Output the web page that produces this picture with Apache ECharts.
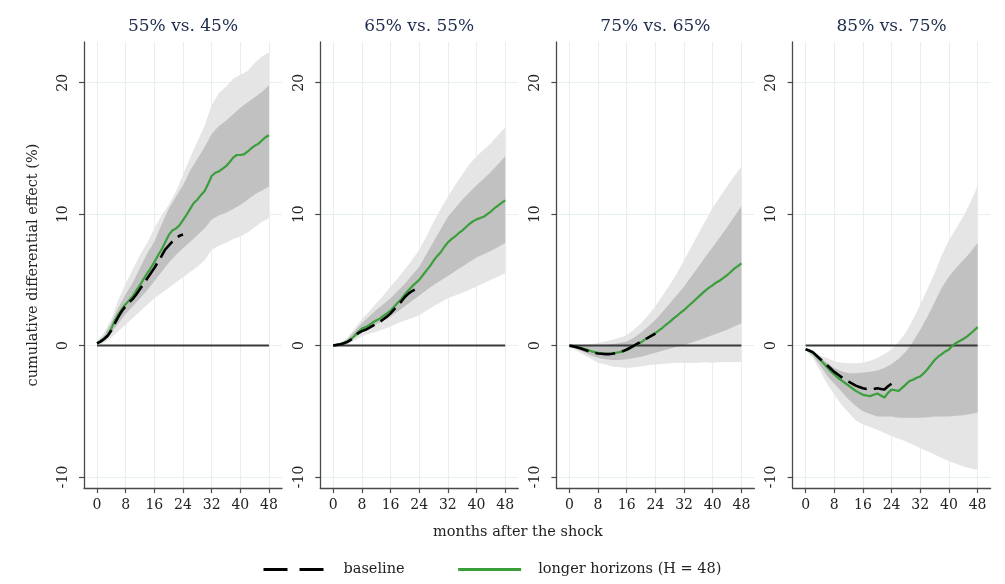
<!DOCTYPE html>
<html><head><meta charset="utf-8">
<script src="https://cdn.jsdelivr.net/npm/echarts@6/dist/echarts.min.js"></script>
<style>html,body{margin:0;padding:0;background:#fff}#c{width:1005px;height:584px}</style>
</head><body><div id="c"></div>
<script>
const months = [0,1,2,3,4,5,6,7,8,9,10,11,12,13,14,15,16,17,18,19,20,21,22,23,24,25,26,27,28,29,30,31,32,33,34,35,36,37,38,39,40,41,42,43,44,45,46,47,48];
const baselineMonths = [0,1,2,3,4,5,6,7,8,9,10,11,12,13,14,15,16,17,18,19,20,21,22,23,24];
const bandMonths = [0,2,4,6,8,10,12,14,16,18,20,22,24,26,28,30,32,34,36,38,40,42,44,46,48];
const zeroLineMonths = [0,48];
const zeroLineValues = [0,0];
const xTicks = [0,8,16,24,32,40,48];
const yTicks = [-10,0,10,20];
const panelTitles = ['55% vs. 45%','65% vs. 55%','75% vs. 65%','85% vs. 75%'];
const legendNames = ['baseline','longer horizons (H = 48)'];
const yAxisTitle = 'cumulative differential effect (%)';
const xAxisTitle = 'months after the shock';

// Panel 1: 55% vs. 45%
const green1 = [0.17,0.35,0.55,0.8,1.3,1.9,2.4,2.8,3.15,3.45,3.75,4.2,4.6,5.05,5.5,5.9,6.35,6.85,7.3,7.85,8.4,8.75,8.9,9.15,9.55,9.95,10.4,10.85,11.1,11.45,11.75,12.3,12.9,13.15,13.25,13.45,13.65,13.95,14.3,14.5,14.5,14.55,14.75,15.0,15.2,15.35,15.6,15.85,16.0];
const base1 = [0.17,0.3,0.5,0.75,1.15,1.7,2.2,2.65,3.0,3.3,3.55,3.9,4.3,4.7,5.1,5.5,5.9,6.35,6.8,7.3,7.6,7.9,8.15,8.35,8.45];
const outerHi1 = [0.3,1.0,2.0,3.5,4.7,5.8,6.9,7.8,8.9,9.9,10.7,11.7,13.0,14.3,15.5,16.7,18.3,19.2,19.7,20.3,20.6,20.9,21.5,22.0,22.3];
const innerHi1 = [0.25,0.75,1.75,2.9,3.9,4.8,5.9,7.0,7.9,9.2,10.4,11.3,12.2,13.3,14.2,15.1,16.1,16.7,17.1,17.6,18.1,18.5,18.9,19.3,19.8];
const innerLo1 = [0.1,0.35,1.0,1.7,2.4,3.0,3.6,4.2,4.9,5.6,6.3,6.9,7.4,7.9,8.4,8.9,9.6,9.9,10.1,10.4,10.7,11.1,11.5,11.8,12.1];
const outerLo1 = [0.05,0.2,0.6,1.1,1.6,2.1,2.6,3.1,3.6,4.0,4.4,4.8,5.2,5.6,6.0,6.5,7.3,7.6,7.8,8.1,8.3,8.6,9.0,9.4,9.7];

// Panel 2: 65% vs. 55%
const green2 = [0,0.05,0.12,0.22,0.32,0.5,0.75,1.05,1.3,1.4,1.55,1.75,1.9,2.05,2.25,2.45,2.65,2.95,3.25,3.55,3.9,4.2,4.5,4.75,5.0,5.35,5.7,6.05,6.45,6.8,7.1,7.5,7.85,8.1,8.3,8.55,8.75,9.0,9.25,9.45,9.6,9.7,9.8,10.0,10.2,10.45,10.65,10.85,11.05];
const base2 = [0,0.05,0.1,0.18,0.28,0.45,0.7,0.95,1.1,1.2,1.35,1.5,1.65,1.8,2.0,2.2,2.45,2.75,3.05,3.35,3.7,3.95,4.15,4.3,4.45];
const outerHi2 = [0.05,0.2,0.6,1.3,2.0,2.6,3.2,3.8,4.5,5.1,5.8,6.5,7.3,8.3,9.4,10.4,11.3,12.2,13.0,13.8,14.4,14.9,15.4,16.0,16.6];
const innerHi2 = [0.03,0.15,0.5,1.1,1.7,2.2,2.7,3.15,3.6,4.15,4.7,5.35,6.0,6.95,7.9,8.85,9.8,10.45,11.1,11.65,12.2,12.7,13.2,13.8,14.4];
const innerLo2 = [0,0.05,0.2,0.6,1.0,1.3,1.6,1.9,2.2,2.6,3.0,3.4,3.8,4.2,4.6,4.95,5.3,5.65,6.0,6.35,6.7,6.95,7.2,7.5,7.8];
const outerLo2 = [0,0.02,0.1,0.4,0.7,0.9,1.05,1.25,1.45,1.7,1.9,2.1,2.3,2.65,3.0,3.3,3.6,3.8,4.0,4.25,4.5,4.75,5.0,5.25,5.5];

// Panel 3: 75% vs. 65%
const green3 = [-0.05,-0.08,-0.12,-0.18,-0.25,-0.33,-0.42,-0.5,-0.55,-0.6,-0.62,-0.63,-0.6,-0.55,-0.5,-0.42,-0.33,-0.2,-0.05,0.1,0.25,0.45,0.6,0.8,0.95,1.15,1.35,1.6,1.8,2.05,2.25,2.5,2.7,2.95,3.2,3.45,3.7,3.95,4.2,4.4,4.6,4.8,4.95,5.15,5.35,5.6,5.85,6.05,6.25];
const base3 = [0,-0.05,-0.12,-0.2,-0.3,-0.4,-0.5,-0.55,-0.6,-0.62,-0.65,-0.65,-0.62,-0.57,-0.5,-0.42,-0.3,-0.15,0.0,0.15,0.3,0.45,0.6,0.75,0.9];
const outerHi3 = [0,0.02,0.05,0.1,0.2,0.3,0.45,0.6,0.8,1.2,1.7,2.3,3.0,3.8,4.6,5.5,6.5,7.5,8.5,9.5,10.5,11.3,12.1,12.9,13.6];
const innerHi3 = [0,-0.02,-0.05,-0.03,0.0,0.05,0.1,0.2,0.3,0.6,1.0,1.45,1.97,2.55,3.2,3.85,4.5,5.25,6.0,6.75,7.5,8.25,9.0,9.8,10.6];
const innerLo3 = [-0.05,-0.25,-0.5,-0.75,-0.95,-1.05,-1.1,-1.1,-1.05,-0.95,-0.85,-0.7,-0.55,-0.4,-0.25,-0.1,0.05,0.22,0.4,0.6,0.8,1.0,1.2,1.45,1.7];
const outerLo3 = [-0.1,-0.4,-0.7,-1.0,-1.3,-1.45,-1.6,-1.65,-1.7,-1.65,-1.6,-1.5,-1.45,-1.4,-1.35,-1.3,-1.3,-1.32,-1.3,-1.28,-1.3,-1.27,-1.25,-1.27,-1.25];

// Panel 4: 85% vs. 75%
const green4 = [-0.28,-0.4,-0.55,-0.8,-1.05,-1.35,-1.65,-1.95,-2.2,-2.45,-2.65,-2.85,-3.05,-3.25,-3.45,-3.6,-3.75,-3.8,-3.85,-3.75,-3.65,-3.8,-3.95,-3.6,-3.35,-3.4,-3.45,-3.2,-2.95,-2.7,-2.6,-2.45,-2.35,-2.1,-1.8,-1.45,-1.1,-0.85,-0.65,-0.45,-0.3,0.0,0.2,0.35,0.5,0.68,0.9,1.15,1.4];
const base4 = [-0.28,-0.38,-0.5,-0.75,-1.0,-1.25,-1.5,-1.75,-2.0,-2.2,-2.4,-2.6,-2.75,-2.9,-3.05,-3.15,-3.25,-3.3,-3.3,-3.3,-3.25,-3.3,-3.35,-3.1,-2.9];
const outerHi4 = [-0.2,-0.4,-0.75,-0.95,-1.2,-1.3,-1.35,-1.35,-1.3,-1.15,-0.95,-0.65,-0.3,0.3,1.0,2.0,3.1,4.3,5.5,6.9,8.0,8.9,9.8,10.9,12.1];
const innerHi4 = [-0.28,-0.5,-0.9,-1.3,-1.7,-1.95,-2.1,-2.1,-2.05,-2.0,-1.9,-1.7,-1.4,-1.0,-0.45,0.3,1.2,2.2,3.3,4.4,5.25,5.9,6.5,7.1,7.8];
const innerLo4 = [-0.3,-0.75,-1.5,-2.3,-2.9,-3.5,-4.1,-4.6,-5.0,-5.2,-5.4,-5.4,-5.4,-5.5,-5.5,-5.5,-5.5,-5.45,-5.4,-5.4,-5.4,-5.35,-5.3,-5.2,-5.1];
const outerLo4 = [-0.35,-0.9,-1.9,-2.9,-3.75,-4.5,-5.1,-5.7,-6.0,-6.2,-6.4,-6.65,-6.9,-7.1,-7.3,-7.55,-7.8,-8.05,-8.3,-8.55,-8.8,-9.0,-9.2,-9.35,-9.45];

const panels = [
  {green: green1, base: base1, oHi: outerHi1, oLo: outerLo1, iHi: innerHi1, iLo: innerLo1},
  {green: green2, base: base2, oHi: outerHi2, oLo: outerLo2, iHi: innerHi2, iLo: innerLo2},
  {green: green3, base: base3, oHi: outerHi3, oLo: outerLo3, iHi: innerHi3, iLo: innerLo3},
  {green: green4, base: base4, oHi: outerHi4, oLo: outerLo4, iHi: innerHi4, iLo: innerLo4}
];

const FONT = 'DejaVu Serif';
const GREEN = '#3a9e3a';
const GRIDC = '#e6eff1';
const AXISC = '#4a4a4a';
const gridLefts = [84, 320.2, 556.4, 792.6];
const gridW = 198, gridTop = 42, gridH = 446;
const XMIN = -3.63, XMAX = 51.63, YMIN = -10.84, YMAX = 23.1;

function pairs(xs, ys) { return ys.map((v, k) => [xs[k], v]); }

function bandSeries(i, lo, hi, color) {
  const data = bandMonths.map((m, k) => [m, lo[k], hi[k]]);
  return {
    type: 'custom', xAxisIndex: i, yAxisIndex: i, silent: true, z: 1,
    encode: {x: 0, y: [1, 2]},
    data: data,
    renderItem: function (params, api) {
      if (params.dataIndex !== 0) return null;
      const pts = [];
      for (let k = 0; k < data.length; k++) pts.push(api.coord([data[k][0], data[k][2]]));
      for (let k = data.length - 1; k >= 0; k--) pts.push(api.coord([data[k][0], data[k][1]]));
      return {type: 'polygon', shape: {points: pts}, style: {fill: color, stroke: null}};
    }
  };
}

const grids = [], xAxes = [], yAxes = [], series = [], graphics = [];
panels.forEach((p, i) => {
  grids.push({left: gridLefts[i], top: gridTop, width: gridW, height: gridH, containLabel: false});
  xAxes.push({
    gridIndex: i, type: 'value', min: XMIN, max: XMAX,
    axisLine: {show: true, onZero: false, lineStyle: {color: AXISC, width: 1.3}},
    axisTick: {show: true, customValues: xTicks, length: 5, lineStyle: {color: AXISC, width: 1.2}},
    axisLabel: {customValues: xTicks, fontFamily: FONT, fontSize: 14, color: '#222', margin: 10},
    splitLine: {show: true, lineStyle: {color: GRIDC, width: 1.2}}
  });
  yAxes.push({
    gridIndex: i, type: 'value', min: YMIN, max: YMAX,
    name: i === 0 ? yAxisTitle : '', nameLocation: 'middle', nameGap: 43, nameRotate: 90,
    nameTextStyle: {fontFamily: FONT, fontSize: 14.5, color: '#222'},
    axisLine: {show: true, onZero: false, lineStyle: {color: AXISC, width: 1.3}},
    axisTick: {show: true, customValues: yTicks, length: 5, lineStyle: {color: AXISC, width: 1.2}},
    axisLabel: {customValues: yTicks, rotate: 90, fontFamily: FONT, fontSize: 14, color: '#222', margin: 14},
    splitLine: {show: true, lineStyle: {color: GRIDC, width: 1.2}}
  });
  series.push(bandSeries(i, p.oLo, p.oHi, '#e5e5e5'));
  series.push(bandSeries(i, p.iLo, p.iHi, '#c1c1c1'));
  series.push({type: 'line', xAxisIndex: i, yAxisIndex: i, silent: true, symbol: 'none', z: 3,
    data: pairs(zeroLineMonths, zeroLineValues), lineStyle: {color: '#3a3a3a', width: 2}});
  series.push({type: 'line', name: legendNames[1], xAxisIndex: i, yAxisIndex: i, symbol: 'none', z: 4,
    data: pairs(months, p.green), lineStyle: {color: GREEN, width: 2.2}, itemStyle: {color: GREEN}});
  series.push({type: 'line', name: legendNames[0], xAxisIndex: i, yAxisIndex: i, symbol: 'none', z: 5,
    data: pairs(baselineMonths, p.base), lineStyle: {color: '#000', width: 2.6, type: [20, 7]}, itemStyle: {color: '#000'}});
  graphics.push({type: 'text', x: gridLefts[i] + gridW / 2, y: 27,
    style: {text: panelTitles[i], font: '17px "DejaVu Serif"', fill: '#1c2b4d', textAlign: 'center', textVerticalAlign: 'middle', align: 'center', verticalAlign: 'middle'}});
});
graphics.push({type: 'text', x: 518, y: 532,
  style: {text: xAxisTitle, font: '14.5px "DejaVu Serif"', fill: '#222', textAlign: 'center', textVerticalAlign: 'middle', align: 'center', verticalAlign: 'middle'}});

const chart = echarts.init(document.getElementById('c'), null, {renderer: 'canvas'});
chart.setOption({
  animation: false,
  backgroundColor: '#fff',
  grid: grids, xAxis: xAxes, yAxis: yAxes, series: series,
  graphic: graphics,
  legend: {
    left: 262, top: 562, padding: 0, itemWidth: 63, itemHeight: 14, itemGap: 52,
    itemStyle: {opacity: 0},
    data: [
      {name: legendNames[0], lineStyle: {type: [24, 12], width: 3}, itemStyle: {opacity: 0}},
      {name: legendNames[1], lineStyle: {width: 3}, itemStyle: {opacity: 0}}
    ],
    textStyle: {fontFamily: FONT, fontSize: 14.5, color: '#222', padding: [0, 0, 0, 12]},
    selectedMode: false
  }
});
</script>
</body></html>
